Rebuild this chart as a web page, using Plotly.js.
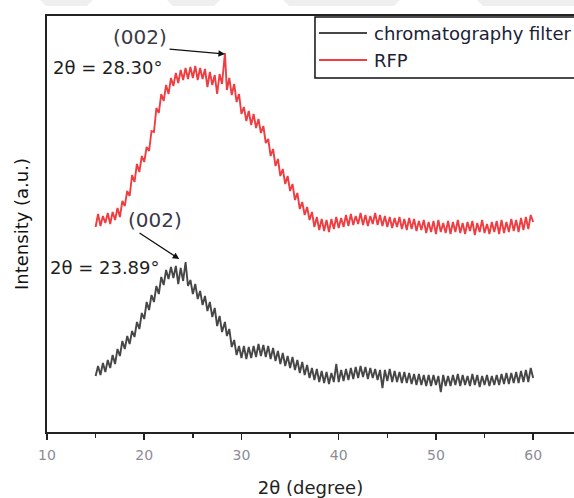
<!DOCTYPE html>
<html>
<head>
<meta charset="utf-8">
<script src="https://cdn.plot.ly/plotly-3.0.1.min.js"></script>
<style>
html,body{margin:0;padding:0;background:#fff;}
#chart{width:574px;height:498px;}
</style>
</head>
<body>
<div id="chart"></div>
<script>
// 2θ scan positions (degree)
const twoTheta = [
 15.00,15.25,15.50,15.75, 16.00,16.25,16.50,16.75, 17.00,17.25,17.50,17.75,
 18.00,18.25,18.50,18.75, 19.00,19.25,19.50,19.75, 20.00,20.25,20.50,20.75,
 21.00,21.25,21.50,21.75, 22.00,22.25,22.50,22.75, 23.00,23.25,23.50,23.75,
 24.00,24.25,24.50,24.75, 25.00,25.25,25.50,25.75, 26.00,26.25,26.50,26.75,
 27.00,27.25,27.50,27.75, 28.00,28.30,28.50,28.75, 29.00,29.25,29.50,29.75,
 30.00,30.25,30.50,30.75, 31.00,31.25,31.50,31.75, 32.00,32.25,32.50,32.75,
 33.00,33.25,33.50,33.75, 34.00,34.25,34.50,34.75, 35.00,35.25,35.50,35.75,
 36.00,36.25,36.50,36.75, 37.00,37.25,37.50,37.75, 38.00,38.25,38.50,38.75,
 39.00,39.25,39.50,39.75, 40.00,40.25,40.50,40.75, 41.00,41.25,41.50,41.75,
 42.00,42.25,42.50,42.75, 43.00,43.25,43.50,43.75, 44.00,44.25,44.50,44.75,
 45.00,45.25,45.50,45.75, 46.00,46.25,46.50,46.75, 47.00,47.25,47.50,47.75,
 48.00,48.25,48.50,48.75, 49.00,49.25,49.50,49.75, 50.00,50.25,50.50,50.75,
 51.00,51.25,51.50,51.75, 52.00,52.25,52.50,52.75, 53.00,53.25,53.50,53.75,
 54.00,54.25,54.50,54.75, 55.00,55.25,55.50,55.75, 56.00,56.25,56.50,56.75,
 57.00,57.25,57.50,57.75, 58.00,58.25,58.50,58.75, 59.00,59.25,59.50,59.75,
 60.00
];

// Intensity (a.u.) — chromatography filter
const filterIntensity = [
 56,66,57,69, 60,72,64,77, 68,83,76,91, 83,96,88,101, 95,110,103,119,
 113,130,122,137, 130,146,138,155, 147,162,153,165, 154,166,148,164,
 151,170,146,152, 138,148,133,141, 127,136,121,130, 115,124,106,116,
 100,110,96,103, 85,92,77,86, 74,86,73,85, 74,86,75,88, 76,87,75,86,
 73,84,71,81, 68,79,66,76, 64,75,62,72, 59,70,57,67, 54,64,52,63,
 50,61,49,60, 48,59,50,68, 50,62,51,63, 52,64,53,65, 54,66,55,65,
 53,64,54,63, 52,62,44,62, 51,63,50,61, 50,60,49,60, 49,59,48,58,
 47,58,47,57, 46,57,46,57, 47,56,40,57, 46,56,46,57, 47,58,46,57,
 47,56,46,58, 47,57,45,56, 47,57,46,56, 47,57,47,58, 48,59,48,59,
 49,60,49,61, 50,62,50,64, 54
];

// Intensity (a.u.) — RFP
const rfpIntensity = [
 205,218,206,216, 209,219,208,220, 212,224,215,231, 226,241,236,257,
 250,268,260,276, 270,285,281,301, 300,324,319,338, 331,347,338,354,
 346,359,349,362, 352,364,353,365, 354,366,352,364, 353,363,345,360,
 347,357,338,358, 348,379,342,354, 337,348,330,338, 318,325,311,321,
 307,318,304,313, 299,306,289,293, 276,283,266,273, 256,263,248,256,
 241,248,232,239, 223,230,217,225, 212,220,205,215, 202,213,201,212,
 200,213,203,215, 204,214,205,217, 206,218,207,216, 208,219,207,217,
 206,216,208,219, 207,217,206,216, 205,215,204,214, 205,215,203,213,
 202,214,203,213, 201,211,202,212, 199,210,200,211, 198,212,200,209,
 199,211,198,210, 200,212,199,209, 198,210,201,211, 197,209,200,212,
 199,208,198,210, 200,211,198,212, 199,210,200,213, 201,212,200,214,
 202,215,203,217, 210
];

const seriesNames = ['chromatography filter', 'RFP'];
const seriesColors = ['#474747', '#ef3e42'];
const xTicks = [10, 20, 30, 40, 50, 60];
const peakLabels = ['(002)', '2θ = 28.30°', '(002)', '2θ = 23.89°'];

const FONT = 'DejaVu Sans, Liberation Sans, Arial, sans-serif';

const traces = [
  {x: twoTheta, y: filterIntensity, name: seriesNames[0], type: 'scatter', mode: 'lines',
   line: {color: seriesColors[0], width: 1.9}},
  {x: twoTheta, y: rfpIntensity, name: seriesNames[1], type: 'scatter', mode: 'lines',
   line: {color: seriesColors[1], width: 1.9}}
];

// faint banner fragments at the very top of the original image
const bannerShapes = [
  'M-0.0133,1.0385 L0.0873,1.0385 L0.0759,1.024 L-0.0019,1.024 Z',
  'M0.2277,1.0385 L0.3283,1.0385 L0.3169,1.024 L0.2391,1.024 Z',
  'M0.4478,1.0385 L0.6698,1.0385 L0.6584,1.024 L0.4592,1.024 Z',
  'M0.8159,1.0385 L1.05,1.0385 L1.05,1.024 L0.8273,1.024 Z'
].map(p => ({type: 'path', xref: 'paper', yref: 'paper', path: p,
             fillcolor: '#efefef', line: {width: 0}, layer: 'below'}));

// legend drawn in paper coordinates so it can run past the right edge like the original
const legendShapes = [
  {type: 'rect', xref: 'paper', yref: 'paper', x0: 0.5085, x1: 1.06, y0: 0.851, y1: 0.9976,
   line: {color: '#111', width: 1.5}, fillcolor: '#fff', layer: 'above'},
  {type: 'line', xref: 'paper', yref: 'paper', x0: 0.5161, x1: 0.6072, y0: 0.9591, y1: 0.9591,
   line: {color: seriesColors[0], width: 1.8}, layer: 'above'},
  {type: 'line', xref: 'paper', yref: 'paper', x0: 0.5161, x1: 0.6072, y0: 0.8942, y1: 0.8942,
   line: {color: seriesColors[1], width: 1.8}, layer: 'above'}
];
const legendTexts = [
  {xref: 'paper', yref: 'paper', x: 0.6165, y: 0.9591, xanchor: 'left', yanchor: 'middle',
   text: seriesNames[0], showarrow: false, font: {family: FONT, size: 18, color: '#1b2236'}},
  {xref: 'paper', yref: 'paper', x: 0.6165, y: 0.8942, xanchor: 'left', yanchor: 'middle',
   text: seriesNames[1], showarrow: false, font: {family: FONT, size: 18, color: '#1b2236'}}
];

const layout = {
  width: 574, height: 498,
  margin: {l: 47, r: 0, t: 16, b: 66},
  paper_bgcolor: '#fff', plot_bgcolor: '#fff',
  font: {family: FONT, color: '#222'},
  showlegend: false,
  xaxis: {
    range: [10, 64.2],
    tickvals: xTicks, ticktext: xTicks.map(String),
    ticks: 'outside', ticklen: 6, tickwidth: 1.5, tickcolor: '#222',
    ticklabelstandoff: 3,
    minor: {ticks: 'outside', ticklen: 4, tickwidth: 1.5, tickcolor: '#222', dtick: 5, tick0: 5, showgrid: false},
    showline: true, linecolor: '#222', linewidth: 2, mirror: true,
    showgrid: false, zeroline: false,
    tickfont: {family: FONT, size: 14, color: '#8c8c98'},
    title: {text: '2θ (degree)', font: {family: FONT, size: 18, color: '#222'}, standoff: 20}
  },
  yaxis: {
    range: [0, 416],
    showticklabels: false, ticks: '',
    showline: true, linecolor: '#222', linewidth: 2,
    showgrid: false, zeroline: false,
    title: {text: 'Intensity (a.u.)', font: {family: FONT, size: 18, color: '#111'}, standoff: 12}
  },
  shapes: bannerShapes.concat(legendShapes),
  annotations: [
    {x: 28.3, y: 378, ax: 22.45, ay: 383, axref: 'x', ayref: 'y', xref: 'x', yref: 'y',
     text: '', showarrow: true, arrowhead: 2, arrowsize: 1, arrowwidth: 1.3, arrowcolor: '#111'},
    {x: 23.6, y: 173, ax: 19.36, ay: 200, axref: 'x', ayref: 'y', xref: 'x', yref: 'y',
     text: '', showarrow: true, arrowhead: 2, arrowsize: 1, arrowwidth: 1.3, arrowcolor: '#111'},
    {x: 19.57, y: 395, xref: 'x', yref: 'y', text: peakLabels[0], showarrow: false,
     font: {family: FONT, size: 20, color: '#3a3a48'}},
    {x: 10.45, y: 365, xref: 'x', yref: 'y', text: peakLabels[1], showarrow: false, xanchor: 'left',
     font: {family: FONT, size: 18, color: '#1e1e1e'}},
    {x: 21.11, y: 212, xref: 'x', yref: 'y', text: peakLabels[2], showarrow: false,
     font: {family: FONT, size: 20, color: '#3a3a48'}},
    {x: 10.15, y: 165, xref: 'x', yref: 'y', text: peakLabels[3], showarrow: false, xanchor: 'left',
     font: {family: FONT, size: 18, color: '#1e1e1e'}}
  ].concat(legendTexts)
};

Plotly.newPlot('chart', traces, layout, {displayModeBar: false, staticPlot: true});
</script>
</body>
</html>
